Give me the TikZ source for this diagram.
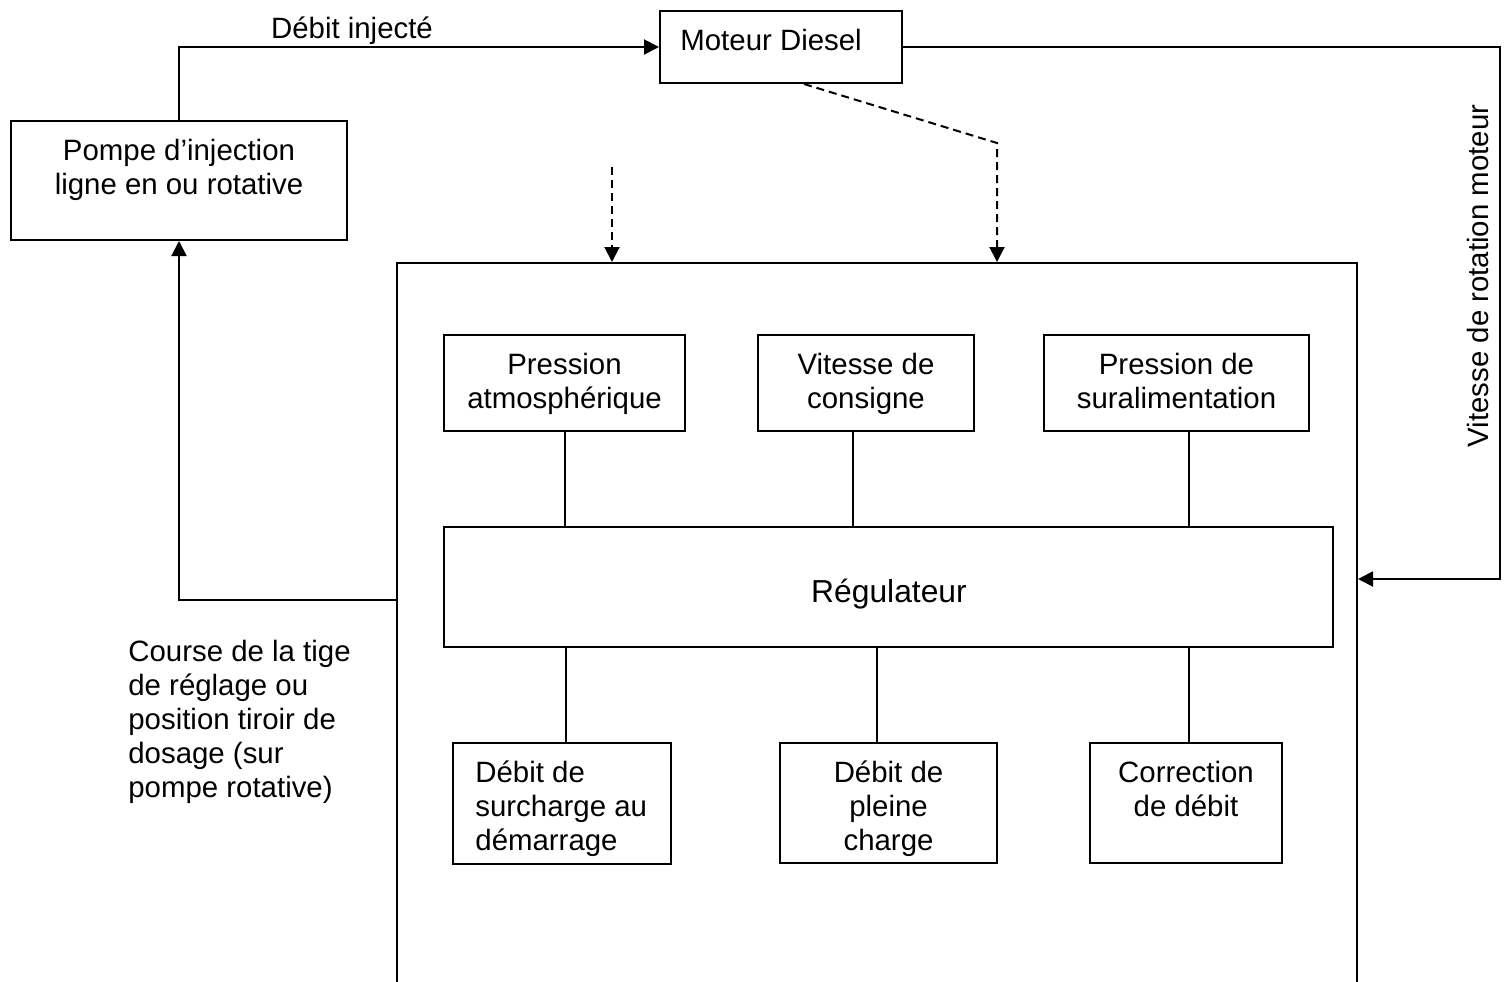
\documentclass[tikz,border=0pt]{standalone}
\usepackage{fontspec}
\setmainfont{Liberation Sans}
\usetikzlibrary{arrows.meta,positioning}
\tikzstyle{bloc} = [draw,line width=1pt,inner sep=0pt]
\tikzstyle{txt} = [inner sep=0pt,align=center,font=\fontsize{14.7}{17}\selectfont,execute at begin node=\strut]
\tikzstyle{liaison} = [line width=1pt]
\tikzstyle{fleche} = [line width=1pt,arrows={-Triangle[length=7.5pt,width=7.5pt]}]
\tikzstyle{mesure} = [fleche,dash pattern=on 4pt off 2.5pt]

\begin{document}
\begin{tikzpicture}[x=0.5pt,y=-0.5pt]
                  \useasboundingbox (0,0) rectangle (1508,981);
                  \clip (0,0) rectangle (1508,981);
                  % blocs
                  \node (moteur)[bloc,minimum width=121pt,minimum height=36pt] at (781,47) {};
                  \node (pompe)[bloc,minimum width=168pt,minimum height=59.5pt] at (179,180.5) {};
                  \node (cadre)[bloc,minimum width=480pt,minimum height=373.5pt] at (877,636.5) {};
                  \node (patm)[bloc,minimum width=120.5pt,minimum height=48pt] at (564.5,383) {};
                  \node (vcons)[bloc,minimum width=108pt,minimum height=48pt] at (866,383) {};
                  \node (psural)[bloc,minimum width=132.5pt,minimum height=48pt] at (1176.5,383) {};
                  \node (regul)[bloc,minimum width=444.5pt,minimum height=60pt] at (888.5,587) {};
                  \node (surch)[bloc,minimum width=109pt,minimum height=60.5pt] at (562,803.5) {};
                  \node (pleine)[bloc,minimum width=108.5pt,minimum height=60pt] at (888.5,803) {};
                  \node (corr)[bloc,minimum width=96pt,minimum height=60pt] at (1186,803) {};

                  % textes des blocs
                  \node (moteur-txt)[txt,below right=8.2pt and 10.5pt of moteur.north west] {Moteur Diesel};
                  \node (pompe-txt)[txt,below=9.2pt of pompe.north] {Pompe d’injection\\ligne en ou rotative};
                  \node (patm-txt)[txt,below=9.2pt of patm.north] {Pression\\atmosphérique};
                  \node (vcons-txt)[txt,below=9.2pt of vcons.north] {Vitesse de\\consigne};
                  \node (psural-txt)[txt,below=9.2pt of psural.north] {Pression de\\suralimentation};
                  \node (regul-txt)[txt,anchor=base,font=\fontsize{15.9}{18}\selectfont] at (889,602) {Régulateur};
                  \node (surch-txt)[txt,align=left,below right=9.2pt and 11.5pt of surch.north west] {Débit de\\surcharge au\\démarrage};
                  \node (pleine-txt)[txt,below=9.2pt of pleine.north] {Débit de\\pleine\\charge};
                  \node (corr-txt)[txt,below=9.2pt of corr.north] {Correction\\de débit};

                  % etiquettes
                  \node (debit)[txt,anchor=base] at (352,38) {Débit injecté};
                  \node (vitesse)[txt,anchor=base,rotate=90] at (1488,276) {Vitesse de rotation moteur};
                  \node (course)[txt,align=left,anchor=north west] at (128,639.5) {Course de la tige\\de réglage ou\\position tiroir de\\dosage (sur\\pompe rotative)};

                  \coordinate (retour) at (1500,579);
                  \coordinate (sortie) at (397,600);
                  \coordinate (coude) at (997,143);
                  \coordinate (capteur) at (612,167);

                  \draw[fleche] (pompe.north) |- (moteur.west);
                  \draw[fleche] (moteur.east) -| (retour) -- (retour -| cadre.east);
                  \draw[fleche] (sortie) -| (pompe.south);
                  \draw[mesure] ([xshift=11.5pt]moteur.south) -- (coude) -- (coude |- cadre.north);
                  \draw[mesure] (capteur) -- (capteur |- cadre.north);

                  \draw[liaison] (patm.south) -- (patm.south |- regul.north);
                  \draw[liaison] ([xshift=-6.5pt]vcons.south) -- ([xshift=-6.5pt]vcons.south |- regul.north);
                  \draw[liaison] ([xshift=6.25pt]psural.south) -- ([xshift=6.25pt]psural.south |- regul.north);
                  \draw[liaison] ([xshift=2pt]surch.north) -- ([xshift=2pt]surch.north |- regul.south);
                  \draw[liaison] ([xshift=-5.75pt]pleine.north) -- ([xshift=-5.75pt]pleine.north |- regul.south);
                  \draw[liaison] ([xshift=1.5pt]corr.north) -- ([xshift=1.5pt]corr.north |- regul.south);
            \end{tikzpicture}
\end{document}
